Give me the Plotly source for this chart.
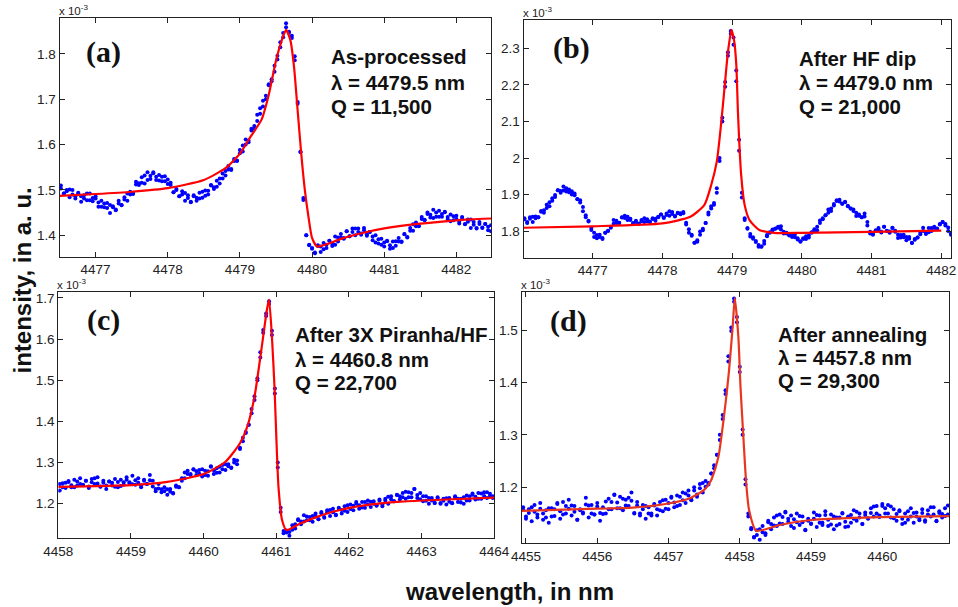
import plotly.graph_objects as go

# ---------------- data (intensity in units of 1e-3 a.u.) ----------------
# Two readings of the scatter cloud per wavelength sample: *_y (envelope) and *_y2 (core)
# panel (a) As-processed
a_x = [
 4476.52, 4476.56, 4476.60, 4476.64, 4476.68, 4476.72, 4476.76, 4476.80, 4476.84, 4476.88,
 4476.92, 4476.96, 4477.00, 4477.04, 4477.08, 4477.12, 4477.16, 4477.20, 4477.24, 4477.28,
 4477.32, 4477.36, 4477.40, 4477.44, 4477.48, 4477.52, 4477.56, 4477.60, 4477.64, 4477.68,
 4477.72, 4477.76, 4477.80, 4477.84, 4477.88, 4477.92, 4477.96, 4478.00, 4478.04, 4478.08,
 4478.12, 4478.16, 4478.20, 4478.24, 4478.28, 4478.32, 4478.36, 4478.40, 4478.44, 4478.48,
 4478.52, 4478.56, 4478.60, 4478.64, 4478.68, 4478.72, 4478.76, 4478.80, 4478.84, 4478.88,
 4478.92, 4478.96, 4479.00, 4479.04, 4479.08, 4479.12, 4479.16, 4479.20, 4479.24, 4479.28,
 4479.32, 4479.36, 4479.40, 4479.44, 4479.48, 4479.52, 4479.56, 4479.60, 4479.64, 4479.68,
 4479.72, 4479.76, 4479.80, 4479.84, 4479.88, 4479.92, 4479.96, 4480.00, 4480.04, 4480.08,
 4480.12, 4480.16, 4480.20, 4480.24, 4480.28, 4480.32, 4480.36, 4480.40, 4480.44, 4480.48,
 4480.52, 4480.56, 4480.60, 4480.64, 4480.68, 4480.72, 4480.76, 4480.80, 4480.84, 4480.88,
 4480.92, 4480.96, 4481.00, 4481.04, 4481.08, 4481.12, 4481.16, 4481.20, 4481.24, 4481.28,
 4481.32, 4481.36, 4481.40, 4481.44, 4481.48, 4481.52, 4481.56, 4481.60, 4481.64, 4481.68,
 4481.72, 4481.76, 4481.80, 4481.84, 4481.88, 4481.92, 4481.96, 4482.00, 4482.04, 4482.08,
 4482.12, 4482.16, 4482.20, 4482.24, 4482.28, 4482.32, 4482.36, 4482.40, 4482.44, 4482.48,
]
a_y = [
 1.510, 1.492, 1.500, 1.484, 1.500, 1.486, 1.494, 1.474, 1.488, 1.477,
 1.492, 1.475, 1.481, 1.463, 1.476, 1.462, 1.471, 1.449, 1.464, 1.457,
 1.476, 1.467, 1.484, 1.476, 1.496, 1.494, 1.518, 1.511, 1.528, 1.514,
 1.539, 1.524, 1.537, 1.522, 1.533, 1.519, 1.530, 1.513, 1.516, 1.495,
 1.502, 1.486, 1.497, 1.476, 1.488, 1.474, 1.488, 1.476, 1.494, 1.483,
 1.499, 1.490, 1.511, 1.502, 1.520, 1.514, 1.536, 1.532, 1.553, 1.546,
 1.568, 1.565, 1.588, 1.585, 1.611, 1.609, 1.635, 1.635, 1.666, 1.668,
 1.697, 1.700, 1.731, 1.740, 1.774, 1.788, 1.826, 1.837, 1.868, 1.849,
 1.835, 1.795, 1.690, 1.585, 1.478, 1.400, 1.378, 1.370, 1.360, 1.376,
 1.363, 1.383, 1.372, 1.388, 1.376, 1.397, 1.386, 1.403, 1.392, 1.409,
 1.398, 1.415, 1.400, 1.415, 1.404, 1.416, 1.399, 1.407, 1.389, 1.400,
 1.382, 1.392, 1.375, 1.387, 1.370, 1.386, 1.377, 1.394, 1.385, 1.402,
 1.395, 1.416, 1.410, 1.428, 1.421, 1.440, 1.433, 1.450, 1.439, 1.456,
 1.441, 1.454, 1.441, 1.452, 1.435, 1.446, 1.433, 1.443, 1.426, 1.438,
 1.424, 1.435, 1.416, 1.429, 1.416, 1.429, 1.416, 1.425, 1.411, 1.422,
]
a_y2 = [
 1.503, 1.492, 1.497, 1.501, 1.490, 1.481, 1.492, 1.486, 1.481, 1.492,
 1.477, 1.482, 1.486, 1.472, 1.463, 1.470, 1.460, 1.467, 1.462, 1.455,
 1.470, 1.466, 1.479, 1.492, 1.490, 1.491, 1.512, 1.515, 1.516, 1.532,
 1.522, 1.531, 1.539, 1.529, 1.521, 1.529, 1.519, 1.523, 1.511, 1.495,
 1.500, 1.486, 1.490, 1.493, 1.482, 1.473, 1.486, 1.483, 1.481, 1.496,
 1.487, 1.498, 1.510, 1.506, 1.507, 1.525, 1.525, 1.542, 1.545, 1.544,
 1.564, 1.564, 1.581, 1.598, 1.600, 1.605, 1.631, 1.641, 1.652, 1.680,
 1.684, 1.708, 1.733, 1.744, 1.761, 1.796, 1.815, 1.846, 1.859, 1.847,
 1.840, 1.786, 1.694, 1.583, 1.482, 1.400, 1.379, 1.372, 1.362, 1.378,
 1.375, 1.369, 1.379, 1.388, 1.382, 1.379, 1.395, 1.395, 1.394, 1.409,
 1.398, 1.407, 1.415, 1.407, 1.401, 1.411, 1.402, 1.407, 1.397, 1.384,
 1.391, 1.379, 1.384, 1.388, 1.378, 1.372, 1.387, 1.386, 1.386, 1.403,
 1.396, 1.410, 1.424, 1.420, 1.420, 1.436, 1.434, 1.447, 1.445, 1.438,
 1.450, 1.441, 1.447, 1.451, 1.440, 1.431, 1.442, 1.436, 1.430, 1.440,
 1.425, 1.430, 1.435, 1.423, 1.415, 1.425, 1.417, 1.425, 1.419, 1.409,
]
a_fit_x = [4476.5, 4477.0, 4477.5, 4478.0, 4478.5, 4478.8, 4479.0, 4479.15, 4479.3, 4479.4,
           4479.5, 4479.58, 4479.64, 4479.7, 4479.75, 4479.8, 4479.85, 4479.9, 4479.95, 4480.0,
           4480.07, 4480.2, 4480.4, 4480.7, 4481.0, 4481.4, 4481.8, 4482.2, 4482.48]
a_fit_y = [1.487, 1.491, 1.496, 1.504, 1.522, 1.548, 1.580, 1.618, 1.655, 1.710,
           1.785, 1.830, 1.853, 1.830, 1.772, 1.676, 1.580, 1.500, 1.441, 1.394,
           1.375, 1.380, 1.392, 1.405, 1.415, 1.424, 1.430, 1.435, 1.437]

# panel (b) After HF dip
b_x = [
 4476.02, 4476.06, 4476.10, 4476.14, 4476.18, 4476.22, 4476.26, 4476.30, 4476.34, 4476.38,
 4476.42, 4476.46, 4476.50, 4476.54, 4476.58, 4476.62, 4476.66, 4476.70, 4476.74, 4476.78,
 4476.82, 4476.86, 4476.90, 4476.94, 4476.98, 4477.02, 4477.06, 4477.10, 4477.14, 4477.18,
 4477.22, 4477.26, 4477.30, 4477.34, 4477.38, 4477.42, 4477.46, 4477.50, 4477.54, 4477.58,
 4477.62, 4477.66, 4477.70, 4477.74, 4477.78, 4477.82, 4477.86, 4477.90, 4477.94, 4477.98,
 4478.02, 4478.06, 4478.10, 4478.14, 4478.18, 4478.22, 4478.26, 4478.30, 4478.34, 4478.38,
 4478.42, 4478.46, 4478.50, 4478.54, 4478.58, 4478.62, 4478.66, 4478.70, 4478.74, 4478.78,
 4478.82, 4478.86, 4478.90, 4478.94, 4478.98, 4479.02, 4479.06, 4479.10, 4479.14, 4479.18,
 4479.22, 4479.26, 4479.30, 4479.34, 4479.38, 4479.42, 4479.46, 4479.50, 4479.54, 4479.58,
 4479.62, 4479.66, 4479.70, 4479.74, 4479.78, 4479.82, 4479.86, 4479.90, 4479.94, 4479.98,
 4480.02, 4480.06, 4480.10, 4480.14, 4480.18, 4480.22, 4480.26, 4480.30, 4480.34, 4480.38,
 4480.42, 4480.46, 4480.50, 4480.54, 4480.58, 4480.62, 4480.66, 4480.70, 4480.74, 4480.78,
 4480.82, 4480.86, 4480.90, 4480.94, 4480.98, 4481.02, 4481.06, 4481.10, 4481.14, 4481.18,
 4481.22, 4481.26, 4481.30, 4481.34, 4481.38, 4481.42, 4481.46, 4481.50, 4481.54, 4481.58,
 4481.62, 4481.66, 4481.70, 4481.74, 4481.78, 4481.82, 4481.86, 4481.90, 4481.94, 4481.98,
 4482.02, 4482.06, 4482.10, 4482.14,
]
b_y = [
 1.835, 1.822, 1.838, 1.825, 1.840, 1.838, 1.855, 1.850, 1.872, 1.868,
 1.890, 1.893, 1.912, 1.905, 1.922, 1.908, 1.914, 1.900, 1.903, 1.888,
 1.878, 1.866, 1.838, 1.828, 1.808, 1.795, 1.780, 1.790, 1.778, 1.795,
 1.800, 1.812, 1.820, 1.828, 1.822, 1.838, 1.842, 1.830, 1.834, 1.822,
 1.828, 1.820, 1.830, 1.825, 1.832, 1.826, 1.835, 1.828, 1.838, 1.845,
 1.836, 1.848, 1.842, 1.852, 1.840, 1.850, 1.846, 1.852, 1.818, 1.805,
 1.790, 1.768, 1.775, 1.790, 1.802, 1.822, 1.845, 1.862, 1.872, 1.905,
 2.000, 2.110, 2.195, 2.280, 2.340, 2.330, 2.240, 2.050, 1.905, 1.835,
 1.808, 1.792, 1.783, 1.770, 1.762, 1.758, 1.765, 1.786, 1.795, 1.802,
 1.806, 1.812, 1.804, 1.798, 1.795, 1.788, 1.792, 1.783, 1.780, 1.772,
 1.780, 1.786, 1.782, 1.795, 1.802, 1.812, 1.822, 1.835, 1.843, 1.850,
 1.862, 1.870, 1.882, 1.886, 1.875, 1.880, 1.868, 1.862, 1.855, 1.850,
 1.845, 1.838, 1.848, 1.815, 1.798, 1.792, 1.802, 1.808, 1.796, 1.812,
 1.800, 1.795, 1.808, 1.798, 1.790, 1.782, 1.790, 1.775, 1.784, 1.768,
 1.778, 1.782, 1.795, 1.800, 1.792, 1.808, 1.800, 1.812, 1.806, 1.818,
 1.825, 1.815, 1.800, 1.790,
]
b_y2 = [
 1.832, 1.825, 1.834, 1.839, 1.835, 1.838, 1.853, 1.857, 1.863, 1.879,
 1.883, 1.899, 1.912, 1.910, 1.911, 1.917, 1.906, 1.909, 1.898, 1.887,
 1.884, 1.854, 1.843, 1.826, 1.803, 1.784, 1.789, 1.784, 1.781, 1.795,
 1.801, 1.809, 1.830, 1.822, 1.823, 1.837, 1.836, 1.839, 1.830, 1.821,
 1.825, 1.820, 1.827, 1.835, 1.827, 1.825, 1.833, 1.834, 1.839, 1.845,
 1.838, 1.844, 1.854, 1.847, 1.841, 1.849, 1.849, 1.849, 1.823, 1.795,
 1.787, 1.768, 1.771, 1.799, 1.806, 1.822, 1.851, 1.868, 1.877, 1.917,
 1.992, 2.100, 2.208, 2.290, 2.348, 2.310, 2.210, 2.020, 1.892, 1.830,
 1.806, 1.785, 1.779, 1.773, 1.757, 1.757, 1.773, 1.789, 1.797, 1.804,
 1.807, 1.809, 1.813, 1.793, 1.793, 1.789, 1.784, 1.790, 1.777, 1.771,
 1.778, 1.778, 1.788, 1.797, 1.805, 1.802, 1.829, 1.832, 1.843, 1.859,
 1.855, 1.874, 1.884, 1.881, 1.875, 1.879, 1.869, 1.862, 1.859, 1.841,
 1.842, 1.838, 1.840, 1.825, 1.793, 1.790, 1.801, 1.804, 1.798, 1.812,
 1.801, 1.799, 1.809, 1.801, 1.781, 1.789, 1.783, 1.784, 1.779, 1.767,
 1.776, 1.782, 1.791, 1.809, 1.795, 1.797, 1.808, 1.808, 1.807, 1.819,
 1.825, 1.819, 1.810, 1.793,
]
b_fit_x = [4476.0, 4477.0, 4478.0, 4478.4, 4478.6, 4478.7, 4478.78, 4478.84, 4478.89, 4478.94,
           4478.99, 4479.03, 4479.06, 4479.085, 4479.13, 4479.18, 4479.25, 4479.39, 4479.6, 4480.0,
           4481.0, 4482.0]
b_fit_y = [1.809, 1.813, 1.821, 1.839, 1.871, 1.926, 1.990, 2.090, 2.190, 2.290,
           2.351, 2.320, 2.255, 2.118, 1.953, 1.871, 1.830, 1.803, 1.795, 1.795,
           1.798, 1.801]

# panel (c) After 3X Piranha/HF
c_x = [
 4458.02, 4458.06, 4458.10, 4458.14, 4458.18, 4458.22, 4458.26, 4458.30, 4458.34, 4458.38,
 4458.42, 4458.46, 4458.50, 4458.54, 4458.58, 4458.62, 4458.66, 4458.70, 4458.74, 4458.78,
 4458.82, 4458.86, 4458.90, 4458.94, 4458.98, 4459.02, 4459.06, 4459.10, 4459.14, 4459.18,
 4459.22, 4459.26, 4459.30, 4459.34, 4459.38, 4459.42, 4459.46, 4459.50, 4459.54, 4459.58,
 4459.62, 4459.66, 4459.70, 4459.74, 4459.78, 4459.82, 4459.86, 4459.90, 4459.94, 4459.98,
 4460.02, 4460.06, 4460.10, 4460.14, 4460.18, 4460.22, 4460.26, 4460.30, 4460.34, 4460.38,
 4460.42, 4460.46, 4460.50, 4460.54, 4460.58, 4460.62, 4460.66, 4460.70, 4460.74, 4460.78,
 4460.82, 4460.86, 4460.90, 4460.94, 4460.98, 4461.02, 4461.06, 4461.10, 4461.14, 4461.18,
 4461.22, 4461.26, 4461.30, 4461.34, 4461.38, 4461.42, 4461.46, 4461.50, 4461.54, 4461.58,
 4461.62, 4461.66, 4461.70, 4461.74, 4461.78, 4461.82, 4461.86, 4461.90, 4461.94, 4461.98,
 4462.02, 4462.06, 4462.10, 4462.14, 4462.18, 4462.22, 4462.26, 4462.30, 4462.34, 4462.38,
 4462.42, 4462.46, 4462.50, 4462.54, 4462.58, 4462.62, 4462.66, 4462.70, 4462.74, 4462.78,
 4462.82, 4462.86, 4462.90, 4462.94, 4462.98, 4463.02, 4463.06, 4463.10, 4463.14, 4463.18,
 4463.22, 4463.26, 4463.30, 4463.34, 4463.38, 4463.42, 4463.46, 4463.50, 4463.54, 4463.58,
 4463.62, 4463.66, 4463.70, 4463.74, 4463.78, 4463.82, 4463.86, 4463.90, 4463.94, 4463.98,
]
c_y = [
 1.232, 1.250, 1.238, 1.255, 1.240, 1.258, 1.244, 1.262, 1.246, 1.256,
 1.238, 1.260, 1.248, 1.264, 1.242, 1.256, 1.236, 1.254, 1.244, 1.260,
 1.240, 1.258, 1.246, 1.264, 1.250, 1.268, 1.246, 1.262, 1.240, 1.256,
 1.248, 1.270, 1.242, 1.236, 1.248, 1.228, 1.240, 1.222, 1.236, 1.226,
 1.244, 1.240, 1.256, 1.262, 1.280, 1.272, 1.284, 1.270, 1.282, 1.266,
 1.280, 1.268, 1.290, 1.272, 1.286, 1.276, 1.294, 1.282, 1.296, 1.288,
 1.300, 1.296, 1.336, 1.352, 1.372, 1.392, 1.420, 1.452, 1.500, 1.555,
 1.615, 1.662, 1.685, 1.620, 1.480, 1.300, 1.190, 1.128, 1.135, 1.122,
 1.148, 1.140, 1.160, 1.150, 1.172, 1.160, 1.168, 1.156, 1.176, 1.162,
 1.180, 1.166, 1.184, 1.170, 1.188, 1.172, 1.190, 1.176, 1.194, 1.180,
 1.198, 1.184, 1.200, 1.188, 1.204, 1.190, 1.208, 1.192, 1.206, 1.196,
 1.210, 1.194, 1.212, 1.200, 1.218, 1.206, 1.222, 1.210, 1.226, 1.212,
 1.228, 1.216, 1.236, 1.214, 1.226, 1.206, 1.218, 1.200, 1.214, 1.202,
 1.216, 1.200, 1.212, 1.198, 1.214, 1.202, 1.218, 1.204, 1.212, 1.200,
 1.220, 1.208, 1.222, 1.210, 1.226, 1.212, 1.228, 1.214, 1.224, 1.218,
]
c_y2 = [
 1.248, 1.240, 1.251, 1.253, 1.245, 1.240, 1.254, 1.248, 1.245, 1.256,
 1.242, 1.252, 1.262, 1.249, 1.241, 1.251, 1.244, 1.254, 1.251, 1.241,
 1.253, 1.243, 1.252, 1.258, 1.252, 1.247, 1.257, 1.251, 1.245, 1.258,
 1.248, 1.257, 1.256, 1.230, 1.237, 1.235, 1.230, 1.235, 1.229, 1.225,
 1.241, 1.240, 1.262, 1.276, 1.272, 1.270, 1.283, 1.279, 1.273, 1.284,
 1.270, 1.279, 1.291, 1.281, 1.275, 1.290, 1.284, 1.296, 1.291, 1.287,
 1.307, 1.305, 1.333, 1.360, 1.374, 1.392, 1.430, 1.461, 1.505, 1.568,
 1.622, 1.656, 1.692, 1.610, 1.468, 1.288, 1.180, 1.134, 1.130, 1.131,
 1.137, 1.150, 1.162, 1.157, 1.157, 1.169, 1.160, 1.170, 1.169, 1.162,
 1.177, 1.168, 1.179, 1.185, 1.179, 1.173, 1.188, 1.185, 1.183, 1.196,
 1.187, 1.195, 1.204, 1.196, 1.191, 1.204, 1.198, 1.205, 1.200, 1.195,
 1.207, 1.198, 1.208, 1.217, 1.211, 1.206, 1.221, 1.218, 1.216, 1.229,
 1.216, 1.226, 1.236, 1.221, 1.211, 1.218, 1.207, 1.214, 1.208, 1.202,
 1.212, 1.202, 1.207, 1.213, 1.205, 1.201, 1.215, 1.212, 1.203, 1.216,
 1.208, 1.218, 1.225, 1.217, 1.212, 1.225, 1.219, 1.228, 1.219, 1.214,
]
c_fit_x = [4458.0, 4459.0, 4459.5, 4460.0, 4460.3, 4460.5, 4460.6, 4460.7, 4460.8, 4460.87,
           4460.9, 4460.94, 4460.975, 4461.0, 4461.03, 4461.08, 4461.14, 4461.33, 4461.56, 4461.79,
           4462.25, 4462.71, 4463.17, 4464.0]
c_fit_y = [1.241, 1.245, 1.253, 1.272, 1.302, 1.347, 1.387, 1.460, 1.581, 1.670,
           1.696, 1.605, 1.484, 1.363, 1.241, 1.160, 1.136, 1.152, 1.168, 1.181,
           1.197, 1.205, 1.209, 1.215]

# panel (d) After annealing
d_x = [
 4454.96, 4455.00, 4455.04, 4455.08, 4455.12, 4455.16, 4455.20, 4455.24, 4455.28, 4455.32,
 4455.36, 4455.40, 4455.44, 4455.48, 4455.52, 4455.56, 4455.60, 4455.64, 4455.68, 4455.72,
 4455.76, 4455.80, 4455.84, 4455.88, 4455.92, 4455.96, 4456.00, 4456.04, 4456.08, 4456.12,
 4456.16, 4456.20, 4456.24, 4456.28, 4456.32, 4456.36, 4456.40, 4456.44, 4456.48, 4456.52,
 4456.56, 4456.60, 4456.64, 4456.68, 4456.72, 4456.76, 4456.80, 4456.84, 4456.88, 4456.92,
 4456.96, 4457.00, 4457.04, 4457.08, 4457.12, 4457.16, 4457.20, 4457.24, 4457.28, 4457.32,
 4457.36, 4457.40, 4457.44, 4457.48, 4457.52, 4457.56, 4457.60, 4457.64, 4457.68, 4457.72,
 4457.76, 4457.80, 4457.84, 4457.88, 4457.92, 4457.96, 4458.00, 4458.04, 4458.08, 4458.12,
 4458.16, 4458.20, 4458.24, 4458.28, 4458.32, 4458.36, 4458.40, 4458.44, 4458.48, 4458.52,
 4458.56, 4458.60, 4458.64, 4458.68, 4458.72, 4458.76, 4458.80, 4458.84, 4458.88, 4458.92,
 4458.96, 4459.00, 4459.04, 4459.08, 4459.12, 4459.16, 4459.20, 4459.24, 4459.28, 4459.32,
 4459.36, 4459.40, 4459.44, 4459.48, 4459.52, 4459.56, 4459.60, 4459.64, 4459.68, 4459.72,
 4459.76, 4459.80, 4459.84, 4459.88, 4459.92, 4459.96, 4460.00, 4460.04, 4460.08, 4460.12,
 4460.16, 4460.20, 4460.24, 4460.28, 4460.32, 4460.36, 4460.40, 4460.44, 4460.48, 4460.52,
 4460.56, 4460.60, 4460.64, 4460.68, 4460.72, 4460.76, 4460.80, 4460.84, 4460.88, 4460.92,
]
d_y = [
 1.162, 1.140, 1.158, 1.135, 1.166, 1.148, 1.170, 1.138, 1.156, 1.132,
 1.160, 1.145, 1.168, 1.140, 1.172, 1.150, 1.176, 1.146, 1.164, 1.138,
 1.158, 1.150, 1.180, 1.142, 1.166, 1.148, 1.170, 1.136, 1.162, 1.150,
 1.178, 1.158, 1.186, 1.160, 1.182, 1.156, 1.176, 1.164, 1.190, 1.150,
 1.172, 1.146, 1.166, 1.140, 1.162, 1.150, 1.168, 1.146, 1.172, 1.154,
 1.176, 1.158, 1.180, 1.162, 1.184, 1.166, 1.190, 1.170, 1.194, 1.176,
 1.200, 1.182, 1.206, 1.190, 1.212, 1.205, 1.226, 1.236, 1.262, 1.290,
 1.330, 1.385, 1.440, 1.505, 1.560, 1.525, 1.420, 1.310, 1.215, 1.150,
 1.122, 1.104, 1.118, 1.100, 1.126, 1.112, 1.136, 1.120, 1.142, 1.126,
 1.148, 1.130, 1.152, 1.134, 1.146, 1.122, 1.150, 1.128, 1.144, 1.118,
 1.140, 1.130, 1.152, 1.124, 1.146, 1.132, 1.154, 1.126, 1.148, 1.120,
 1.142, 1.130, 1.150, 1.124, 1.144, 1.132, 1.156, 1.136, 1.150, 1.130,
 1.152, 1.140, 1.160, 1.144, 1.164, 1.146, 1.168, 1.150, 1.166, 1.142,
 1.158, 1.136, 1.154, 1.130, 1.150, 1.138, 1.160, 1.132, 1.152, 1.140,
 1.158, 1.134, 1.156, 1.144, 1.162, 1.136, 1.154, 1.142, 1.160, 1.148,
]
d_y2 = [
 1.157, 1.144, 1.151, 1.162, 1.153, 1.142, 1.159, 1.150, 1.142, 1.160,
 1.144, 1.158, 1.170, 1.154, 1.148, 1.164, 1.159, 1.165, 1.153, 1.138,
 1.156, 1.152, 1.167, 1.165, 1.150, 1.148, 1.163, 1.151, 1.149, 1.173,
 1.158, 1.172, 1.185, 1.171, 1.160, 1.178, 1.165, 1.180, 1.174, 1.151,
 1.165, 1.150, 1.158, 1.164, 1.150, 1.146, 1.165, 1.158, 1.156, 1.175,
 1.159, 1.170, 1.182, 1.171, 1.164, 1.182, 1.175, 1.188, 1.184, 1.175,
 1.194, 1.186, 1.198, 1.208, 1.201, 1.208, 1.226, 1.242, 1.262, 1.300,
 1.338, 1.378, 1.450, 1.498, 1.554, 1.515, 1.430, 1.300, 1.205, 1.144,
 1.120, 1.105, 1.109, 1.120, 1.114, 1.109, 1.133, 1.130, 1.127, 1.146,
 1.131, 1.143, 1.153, 1.140, 1.126, 1.139, 1.133, 1.145, 1.133, 1.119,
 1.136, 1.131, 1.140, 1.147, 1.132, 1.128, 1.147, 1.138, 1.129, 1.144,
 1.127, 1.142, 1.151, 1.134, 1.125, 1.147, 1.140, 1.153, 1.142, 1.130,
 1.147, 1.141, 1.151, 1.163, 1.150, 1.143, 1.164, 1.160, 1.150, 1.163,
 1.141, 1.149, 1.156, 1.140, 1.132, 1.154, 1.144, 1.151, 1.144, 1.137,
 1.151, 1.137, 1.148, 1.162, 1.148, 1.135, 1.151, 1.149, 1.145, 1.165,
]
d_fit_x = [4454.94, 4456.0, 4456.5, 4457.0, 4457.3, 4457.5, 4457.6, 4457.7, 4457.8, 4457.85,
           4457.9, 4457.93, 4457.98, 4458.01, 4458.05, 4458.09, 4458.13, 4458.23, 4458.56, 4459.03,
           4459.5, 4459.96, 4460.94]
d_fit_y = [1.155, 1.159, 1.161, 1.169, 1.179, 1.195, 1.214, 1.258, 1.360, 1.424,
           1.506, 1.561, 1.487, 1.392, 1.297, 1.208, 1.157, 1.117, 1.128, 1.138,
           1.141, 1.143, 1.145]

panel_tags = ["(a)", "(b)", "(c)", "(d)"]
panel_text = [
    ["As-processed", "λ = 4479.5 nm", "Q = 11,500"],
    ["After HF dip", "λ = 4479.0 nm", "Q = 21,000"],
    ["After 3X Piranha/HF", "λ = 4460.8 nm", "Q = 22,700"],
    ["After annealing", "λ = 4457.8 nm", "Q = 29,300"],
]
x_ticks = [[4477, 4478, 4479, 4480, 4481, 4482],
           [4477, 4478, 4479, 4480, 4481, 4482],
           [4458, 4459, 4460, 4461, 4462, 4463, 4464],
           [4455, 4456, 4457, 4458, 4459, 4460]]
y_ticks = [[1.4, 1.5, 1.6, 1.7, 1.8],
           [1.8, 1.9, 2.0, 2.1, 2.2, 2.3],
           [1.2, 1.3, 1.4, 1.5, 1.6, 1.7],
           [1.2, 1.3, 1.4, 1.5]]
x_ranges = [[4476.5, 4482.48], [4476.01, 4482.14], [4458.0, 4464.0], [4454.94, 4460.94]]
y_ranges = [[1.352, 1.880], [1.727, 2.378], [1.116, 1.715], [1.093, 1.572]]

# ---------------- layout geometry (pixels) ----------------
W, H = 958, 607
def px(v):
    return v / W
def py(v):
    return 1 - v / H

boxes = [  # left, right, top, bottom (pixels)
    (59.5, 491.0, 17.7, 257.0),
    (523.7, 951.0, 20.0, 257.7),
    (58.3, 494.3, 291.7, 538.3),
    (521.7, 949.3, 292.3, 543.3),
]
tag_pos = [(103, 52), (571, 48), (103, 320), (568, 321)]
text_pos = [(329, [57, 82, 107]), (796.5, [58, 82, 107]),
            (293, [334, 359, 382.5]), (776, [334, 357.5, 380.5])]
fit_colors = ["#ff0000", "#ff0000", "#ff0000", "#e8361e"]

data_x = [a_x, b_x, c_x, d_x]
data_y = [a_y, b_y, c_y, d_y]
data_y2 = [a_y2, b_y2, c_y2, d_y2]
fit_x = [a_fit_x, b_fit_x, c_fit_x, d_fit_x]
fit_y = [a_fit_y, b_fit_y, c_fit_y, d_fit_y]

fig = go.Figure()
tick_font = dict(family="Liberation Sans, Arial, sans-serif", size=13.5, color="#222")
annotations = []
layout_axes = {}
for i in range(4):
    sfx = "" if i == 0 else str(i + 1)
    xa, ya = "x" + sfx, "y" + sfx
    for ys in (data_y[i], data_y2[i]):
        fig.add_trace(go.Scatter(x=data_x[i], y=ys, mode="markers", xaxis=xa, yaxis=ya,
                                 marker=dict(color="#0000ff", size=4, line=dict(width=0)),
                                 showlegend=False, hoverinfo="skip"))
    fig.add_trace(go.Scatter(x=fit_x[i], y=fit_y[i], mode="lines", xaxis=xa, yaxis=ya,
                             line=dict(color=fit_colors[i], width=2.2, shape="spline", smoothing=0.6),
                             showlegend=False, hoverinfo="skip"))
    l, r, t, b = boxes[i]
    common = dict(showline=True, linecolor="#222", linewidth=1.2, mirror="allticks",
                  ticks="inside", ticklen=5, tickwidth=1, tickcolor="#222",
                  showgrid=False, zeroline=False, automargin=False, tickfont=tick_font)
    layout_axes["xaxis" + sfx] = dict(domain=[px(l), px(r)], anchor=ya, range=x_ranges[i],
                                      tickvals=x_ticks[i], ticktext=[str(v) for v in x_ticks[i]],
                                      **common)
    layout_axes["yaxis" + sfx] = dict(domain=[py(b), py(t)], anchor=xa, range=y_ranges[i],
                                      tickvals=y_ticks[i], ticktext=[("%g" % v) for v in y_ticks[i]],
                                      **common)
    # x 10^-3 multiplier
    annotations.append(dict(xref="paper", yref="paper", x=px(l - 3), y=py(t + 1),
                            xanchor="left", yanchor="bottom", showarrow=False,
                            text="x 10<sup>-3</sup>",
                            font=dict(family="Liberation Sans, Arial, sans-serif", size=11.5, color="#222")))
    # panel tag
    tx, ty = tag_pos[i]
    annotations.append(dict(xref="paper", yref="paper", x=px(tx), y=py(ty),
                            xanchor="center", yanchor="middle", showarrow=False,
                            text="<b>%s</b>" % panel_tags[i],
                            font=dict(family="Liberation Serif, Times New Roman, serif", size=30, color="#111")))
    lx, lys = text_pos[i]
    for line, ly in zip(panel_text[i], lys):
        annotations.append(dict(xref="paper", yref="paper", x=px(lx), y=py(ly),
                                xanchor="left", yanchor="middle", showarrow=False,
                                text="<b>%s</b>" % line,
                                font=dict(family="Liberation Sans, Arial, sans-serif", size=20.5, color="#111")))

annotations.append(dict(xref="paper", yref="paper", x=px(6), y=py(281), textangle=-90,
                        xanchor="left", yanchor="middle", showarrow=False,
                        text="<b>intensity, in a. u.</b>",
                        font=dict(family="Liberation Sans, Arial, sans-serif", size=24, color="#111")))
annotations.append(dict(xref="paper", yref="paper", x=px(510), y=py(591),
                        xanchor="center", yanchor="middle", showarrow=False,
                        text="<b>wavelength, in nm</b>",
                        font=dict(family="Liberation Sans, Arial, sans-serif", size=24, color="#111")))

fig.update_layout(template="none", width=W, height=H, margin=dict(l=0, r=0, t=0, b=0, pad=0),
                  paper_bgcolor="white", plot_bgcolor="white",
                  annotations=annotations, **layout_axes)
fig.write_html("out.html")
